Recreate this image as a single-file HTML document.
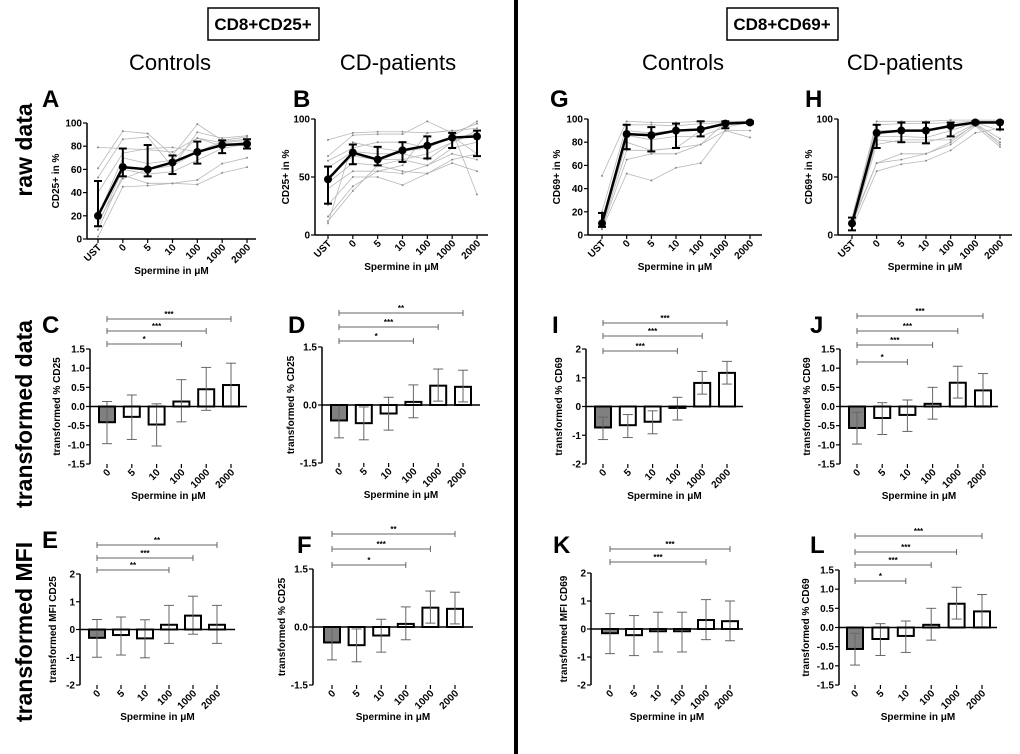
<!DOCTYPE html>
<html><head><meta charset="utf-8"><style>
body{margin:0;background:#fff;}
svg{display:block;font-family:"Liberation Sans",Arial,sans-serif;}
</style></head><body>
<svg id="fig" width="1020" height="754" viewBox="0 0 1020 754">
<line x1="516" y1="0" x2="516" y2="754" stroke="#000" stroke-width="4"/>
<rect x="208" y="8" width="111" height="32" fill="none" stroke="#000" stroke-width="1.5"/>
<text x="263" y="30" text-anchor="middle" font-size="17" font-weight="bold">CD8+CD25+</text>
<rect x="727" y="8" width="111" height="32" fill="none" stroke="#000" stroke-width="1.5"/>
<text x="782" y="30" text-anchor="middle" font-size="17" font-weight="bold">CD8+CD69+</text>
<text x="170" y="70" text-anchor="middle" font-size="22">Controls</text>
<text x="398" y="70" text-anchor="middle" font-size="22">CD-patients</text>
<text x="683" y="70" text-anchor="middle" font-size="22">Controls</text>
<text x="905" y="70" text-anchor="middle" font-size="22">CD-patients</text>
<text transform="translate(32,150) rotate(-90)" text-anchor="middle" font-size="23" font-weight="bold">raw data</text>
<text transform="translate(32,414) rotate(-90)" text-anchor="middle" font-size="23" font-weight="bold">transformed data</text>
<text transform="translate(32,632) rotate(-90)" text-anchor="middle" font-size="23" font-weight="bold">transformed MFI</text>
</svg>
<script>
const lineCats = ["UST","0","5","10","100","1000","2000"];
const barCats = ["0","5","10","100","1000","2000"];
// Panel A
const aLines = [[79,78,77,75,87,83,85],[61,93,91,72,99,85,88],[53,86,88,62,92,87,89],[40,74,78,79,75,84,86],[20,70,65,68,87,80,84],[12,60,56,58,68,78,82],[8,55,48,48,51,65,70],[2,45,46,48,47,57,62],[15,52,60,63,75,82,80]];
const aMean = [20,62,60,66,75,81,82];
const aUp = [50,78,81,72,84,85,86];
const aDown = [11,54,54,56,65,74,78];
// Panel B
const bLines = [[82,88,89,89,88,90,92],[68,86,87,87,98,88,96],[64,75,80,80,75,85,98],[58,72,70,70,65,80,88],[50,68,65,65,60,75,80],[45,62,60,55,53,65,70],[40,55,55,53,60,70,65],[26,50,50,43,53,62,55],[16,42,55,60,88,90,35],[12,38,60,65,70,80,90],[10,80,75,72,75,85,70]];
const bMean = [48,71,65,73,77,84,85];
const bUp = [59,78,76,80,85,88,90];
const bDown = [27,61,60,63,66,75,68];
// Panel G
const gLines = [[51,98,97,97,98,98,98],[20,95,95,94,96,97,98],[12,90,88,90,90,97,97],[10,86,82,85,85,93,97],[8,80,73,75,90,97,97],[7,73,73,75,78,97,98],[6,65,70,70,78,90,90],[5,53,47,58,62,90,84]];
const gMean = [10,87,86,90,91,96,97];
const gUp = [19,95,93,96,98,98,98];
const gDown = [7,74,72,75,85,92,96];
// Panel H
const hLines = [[15,98,98,98,99,99,99],[12,95,96,96,97,98,98],[10,90,90,90,93,98,96],[9,85,85,84,90,97,90],[8,82,80,80,85,96,83],[7,78,82,82,82,95,80],[11,62,70,70,80,96,78],[9,62,65,70,78,94,76],[6,55,61,64,73,88,92]];
const hMean = [10,88,90,90,94,97,97];
const hUp = [15,95,97,97,97,98,98];
const hDown = [4,75,80,79,85,96,91];
// Bar panels
const cVals = [-0.41,-0.27,-0.47,0.13,0.45,0.56];
const cUp = [0.13,0.30,0.07,0.70,1.02,1.13];
const cDown = [-0.97,-0.86,-1.03,-0.40,-0.10,0.02];
const cSig = [["***",5],["***",4],["*",3]];
const dVals = [-0.40,-0.47,-0.22,0.08,0.50,0.47];
const dUp = [0.0,-0.05,0.20,0.52,0.93,0.90];
const dDown = [-0.85,-0.90,-0.65,-0.33,0.10,0.08];
const dSig = [["**",5],["***",4],["*",3]];
const eVals = [-0.30,-0.20,-0.32,0.17,0.50,0.17];
const eUp = [0.36,0.45,0.35,0.87,1.20,0.87];
const eDown = [-1.00,-0.92,-1.02,-0.50,-0.17,-0.50];
const eSig = [["**",5],["***",4],["**",3]];
const fVals = [-0.40,-0.47,-0.22,0.08,0.50,0.47];
const fUp = [0.0,-0.05,0.20,0.52,0.93,0.90];
const fDown = [-0.85,-0.90,-0.65,-0.33,0.10,0.08];
const fSig = [["**",5],["***",4],["*",3]];
const iVals = [-0.73,-0.65,-0.53,-0.05,0.82,1.17];
const iUp = [-0.37,-0.28,-0.15,0.32,1.22,1.57];
const iDown = [-1.15,-1.08,-0.95,-0.47,0.43,0.78];
const iSig = [["***",5],["***",4],["***",3]];
const jVals = [-0.56,-0.30,-0.22,0.07,0.62,0.42];
const jUp = [-0.15,0.10,0.17,0.50,1.05,0.86];
const jDown = [-0.98,-0.73,-0.65,-0.33,0.22,0.02];
const jSig = [["***",5],["***",4],["***",3],["*",2]];
const kVals = [-0.15,-0.22,-0.08,-0.08,0.32,0.28];
const kUp = [0.55,0.48,0.60,0.60,1.05,1.00];
const kDown = [-0.88,-0.95,-0.82,-0.82,-0.38,-0.42];
const kSig = [["***",5],["***",4]];
const lVals = [-0.56,-0.30,-0.22,0.07,0.62,0.42];
const lUp = [-0.15,0.10,0.17,0.50,1.05,0.86];
const lDown = [-0.98,-0.73,-0.65,-0.33,0.22,0.02];
const lSig = [["***",5],["***",4],["***",3],["*",2]];
const ticks100 = [0,20,40,60,80,100];
const ticks50 = [0,50,100];
const ticks2 = [-2,-1,0,1,2];
const ticks15a = [-1.5,0,1.5];
const ticks15b = [-1.5,-1,-0.5,0,0.5,1,1.5];

const svg = document.getElementById('fig');
const NS = 'http://www.w3.org/2000/svg';
function mk(tag, attrs, parent){const e=document.createElementNS(NS,tag);for(const k in attrs)e.setAttribute(k,attrs[k]);(parent||svg).appendChild(e);return e;}
function txt(s, attrs, parent){const e=mk('text',attrs,parent);e.textContent=s;return e;}

function axesCommon(g,p,cats,ticks,fmt){
  const yS=v=>p.yB+(v-p.min)/(p.max-p.min)*(p.yT-p.yB);
  const xS=i=>p.c0+i*(p.c1-p.c0)/(cats.length-1);
  const ya=mk('line',{x1:p.ax,y1:p.yT,x2:p.ax,y2:p.yB,stroke:'#000','stroke-width':1.5},g);
  
  
  ticks.forEach(t=>{
    mk('line',{x1:p.ax-4,y1:yS(t),x2:p.ax,y2:yS(t),stroke:'#000','stroke-width':1.2},g);
    const tl=txt(fmt(t),{x:p.ax-5,y:yS(t)+3.5,'text-anchor':'end','font-size':10,'font-weight':'bold'},g);
    
    
  });
  cats.forEach((c,i)=>{
    mk('line',{x1:xS(i),y1:p.xAxisY,x2:xS(i),y2:p.xAxisY+4,stroke:'#000','stroke-width':1.2},g);
    const tl=txt(c,{transform:`translate(${xS(i)+4},${p.xAxisY+9}) rotate(-45)`,'text-anchor':'end','font-size':10,'font-weight':'bold'},g);
    
    
  });
  const xt=txt('Spermine in \u03bcM',{x:(p.ax+p.xEnd)/2,y:p.xAxisY+35,'text-anchor':'middle','font-size':10,'font-weight':'bold'},g);
  
  
  const yt=txt(p.ylabel,{transform:`translate(${p.ax-p.ylOff},${(p.yT+p.yB)/2}) rotate(-90)`,'text-anchor':'middle','font-size':10,'font-weight':'bold'},g);
  
  
  const lt=txt(p.letter,{x:p.lx,y:p.ly,'font-size':24,'font-weight':'bold'},g);
  
  
  return {xS,yS};
}

function linePanel(p,lines,mean,up,down){
  const g=mk('g',{});
  
  
  p.min=0;p.xAxisY=p.yB;
  const {xS,yS}=axesCommon(g,p,lineCats,p.ticks,t=>String(t));
  const xa=mk('line',{x1:p.ax,y1:p.yB,x2:p.xEnd,y2:p.yB,stroke:'#000','stroke-width':1.5},g);
  
  
  lines.forEach(l=>{
    const pl=mk('polyline',{points:l.map((v,i)=>xS(i)+','+yS(v)).join(' '),fill:'none',stroke:'#b8b8b8','stroke-width':0.8},g);
    
    
    l.forEach((v,i)=>mk('circle',{cx:xS(i),cy:yS(v),r:1,fill:'#888'},g));
  });
  mean.forEach((v,i)=>{
    const e=mk('line',{x1:xS(i),y1:yS(up[i]),x2:xS(i),y2:yS(down[i]),stroke:'#000','stroke-width':2},g);
    
    
    mk('line',{x1:xS(i)-4,y1:yS(up[i]),x2:xS(i)+4,y2:yS(up[i]),stroke:'#000','stroke-width':2},g);
    mk('line',{x1:xS(i)-4,y1:yS(down[i]),x2:xS(i)+4,y2:yS(down[i]),stroke:'#000','stroke-width':2},g);
  });
  const ml=mk('polyline',{points:mean.map((v,i)=>xS(i)+','+yS(v)).join(' '),fill:'none',stroke:'#000','stroke-width':2.5},g);
  
  
  mean.forEach((v,i)=>{
    const c=mk('circle',{cx:xS(i),cy:yS(v),r:4,fill:'#000'},g);
    
    
  });
}

function barPanel(p,vals,up,down,sig){
  const g=mk('g',{});
  
  
  p.xAxisY=p.yB;
  const {xS,yS}=axesCommon(g,p,barCats,p.ticks,p.fmt);
  const y0=yS(0);
  vals.forEach((v,i)=>{
    const b=mk('rect',{x:xS(i)-8,y:Math.min(y0,yS(v)),width:16,height:Math.abs(yS(v)-y0),fill:i===0?'#808080':'#fff',stroke:'#000','stroke-width':2},g);
    
    
    const e=mk('line',{x1:xS(i),y1:yS(up[i]),x2:xS(i),y2:yS(down[i]),stroke:'#666','stroke-width':1},g);
    
    
    mk('line',{x1:xS(i)-5,y1:yS(up[i]),x2:xS(i)+5,y2:yS(up[i]),stroke:'#666','stroke-width':1},g);
    mk('line',{x1:xS(i)-5,y1:yS(down[i]),x2:xS(i)+5,y2:yS(down[i]),stroke:'#666','stroke-width':1},g);
  });
  const za=mk('line',{x1:p.ax,y1:y0,x2:p.xEnd,y2:y0,stroke:'#000','stroke-width':1.5},g);
  
  
  sig.forEach((s,k)=>{
    const y=p.sigY[k];const x1=xS(0),x2=xS(s[1]);
    const l=mk('line',{x1:x1,y1:y,x2:x2,y2:y,stroke:'#666','stroke-width':1},g);
    
    
    mk('line',{x1:x1,y1:y-3,x2:x1,y2:y+3,stroke:'#666','stroke-width':1},g);
    mk('line',{x1:x2,y1:y-3,x2:x2,y2:y+3,stroke:'#666','stroke-width':1},g);
    const st=txt(s[0],{x:(x1+x2)/2,y:y-2,'text-anchor':'middle','font-size':8,'font-weight':'bold'},g);
    
    
  });
}

const f1=t=>t.toFixed(1), f0=t=>String(t);
linePanel({letter:'A',lx:42,ly:107,ax:87,xEnd:256,yT:123,yB:239,max:100,c0:98,c1:247,ticks:ticks100,ylabel:'CD25+ in %',ylOff:28},aLines,aMean,aUp,aDown);
linePanel({letter:'B',lx:293,ly:107,ax:315,xEnd:488,yT:119,yB:235,max:100,c0:328,c1:477,ticks:ticks50,ylabel:'CD25+ in %',ylOff:26},bLines,bMean,bUp,bDown);
linePanel({letter:'G',lx:550,ly:107,ax:588,xEnd:762,yT:119,yB:235,max:100,c0:602,c1:750,ticks:ticks100,ylabel:'CD69+ in %',ylOff:28},gLines,gMean,gUp,gDown);
linePanel({letter:'H',lx:805,ly:107,ax:838,xEnd:1012,yT:119,yB:235,max:100,c0:852,c1:1000,ticks:ticks50,ylabel:'CD69+ in %',ylOff:26},hLines,hMean,hUp,hDown);

barPanel({letter:'C',lx:42,ly:333,ax:90,xEnd:247,yT:349,yB:464,min:-1.5,max:1.5,c0:107,c1:231,ticks:ticks15b,fmt:f1,ylabel:'transformed % CD25',ylOff:30,sigY:[319,331,344]},cVals,cUp,cDown,cSig);
barPanel({letter:'D',lx:288,ly:333,ax:322,xEnd:480,yT:347,yB:463,min:-1.5,max:1.5,c0:339,c1:463,ticks:ticks15a,fmt:f1,ylabel:'transformed % CD25',ylOff:28,sigY:[313,327,341]},dVals,dUp,dDown,dSig);
barPanel({letter:'I',lx:552,ly:333,ax:586,xEnd:743,yT:349,yB:464,min:-2,max:2,c0:603,c1:727,ticks:ticks2,fmt:f0,ylabel:'transformed % CD69',ylOff:24,sigY:[323,336,351]},iVals,iUp,iDown,iSig);
barPanel({letter:'J',lx:810,ly:333,ax:840,xEnd:998,yT:349,yB:464,min:-1.5,max:1.5,c0:857,c1:983,ticks:ticks15b,fmt:f1,ylabel:'transformed % CD69',ylOff:30,sigY:[316,331,345,362]},jVals,jUp,jDown,jSig);
barPanel({letter:'E',lx:42,ly:548,ax:80,xEnd:235,yT:574,yB:685,min:-2,max:2,c0:97,c1:217,ticks:ticks2,fmt:f0,ylabel:'transformed MFI CD25',ylOff:24,sigY:[545,558,570]},eVals,eUp,eDown,eSig);
barPanel({letter:'F',lx:297,ly:553,ax:313,xEnd:473,yT:569,yB:685,min:-1.5,max:1.5,c0:332,c1:455,ticks:ticks15a,fmt:f1,ylabel:'transformed % CD25',ylOff:28,sigY:[534,549,565]},fVals,fUp,fDown,fSig);
barPanel({letter:'K',lx:553,ly:553,ax:591,xEnd:743,yT:573,yB:685,min:-2,max:2,c0:610,c1:730,ticks:ticks2,fmt:f0,ylabel:'transformed MFI CD69',ylOff:24,sigY:[549,562]},kVals,kUp,kDown,kSig);
barPanel({letter:'L',lx:810,ly:553,ax:839,xEnd:997,yT:570,yB:685,min:-1.5,max:1.5,c0:855,c1:982,ticks:ticks15b,fmt:f1,ylabel:'transformed % CD69',ylOff:30,sigY:[536,552,565,581]},lVals,lUp,lDown,lSig);
</script>
</body></html>
